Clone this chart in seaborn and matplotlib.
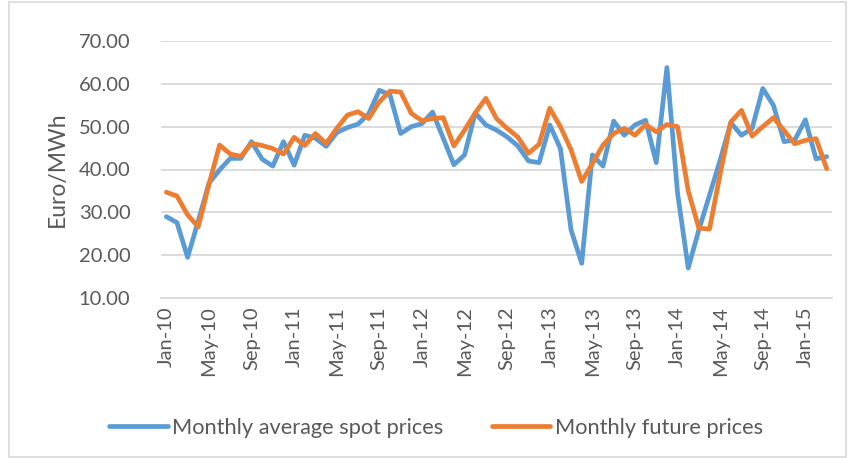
import numpy as np
import pandas as pd
import seaborn as sns
import matplotlib.pyplot as plt
from matplotlib.patches import Rectangle

# months Jan-10 .. Mar-15
months = pd.date_range("2010-01-01", "2015-03-01", freq="MS")
month_labels = [d.strftime("%b-%y") for d in months]

spot_prices = [
    29.0, 27.6, 19.5, 28.0, 36.8, 39.9, 42.6, 42.6, 46.5, 42.4, 40.8, 46.5,
    41.0, 48.0, 47.3, 45.4, 48.6, 49.8, 50.6, 53.0, 58.5, 57.4, 48.4, 50.0,
    50.7, 53.4, 47.3, 41.1, 43.4, 53.2, 50.4, 49.2, 47.6, 45.5, 42.0, 41.6,
    50.4, 44.9, 25.9, 18.1, 43.4, 40.8, 51.3, 48.0, 50.4, 51.5, 41.6, 63.8,
    34.5, 17.0, 25.9, 34.0, 42.2, 50.9, 48.0, 49.6, 58.9, 55.0, 46.5, 46.9,
    51.6, 42.5, 43.0,
]
future_prices = [
    34.7, 33.8, 29.4, 26.6, 36.5, 45.7, 43.6, 43.1, 46.1, 45.6, 44.9, 43.6,
    47.5, 45.6, 48.4, 46.1, 49.6, 52.7, 53.5, 51.9, 55.8, 58.3, 58.1, 53.1,
    51.4, 51.9, 52.1, 45.5, 49.2, 53.2, 56.6, 51.9, 49.6, 47.6, 43.8, 45.9,
    54.3, 50.0, 44.6, 37.2, 41.4, 45.7, 48.4, 49.6, 48.0, 50.5, 48.8, 50.5,
    50.0, 35.0, 26.3, 26.1, 39.0, 51.1, 53.8, 47.8, 50.0, 52.1, 49.1, 46.0,
    46.8, 47.2, 40.2,
]
series_names = ["Monthly average spot prices", "Monthly future prices"]
colors = ["#5B9BD5", "#ED7D31"]

n = len(month_labels)
df = pd.DataFrame({
    "idx": list(range(n)) * 2,
    "price": spot_prices + future_prices,
    "series": [series_names[0]] * n + [series_names[1]] * n,
})

sns.set_style("white")
plt.rcParams["font.family"] = ["Lato", "DejaVu Sans"]
text_color = "#595959"
grid_color = "#D9D9D9"

fig = plt.figure(figsize=(8.48, 4.58), dpi=100)
ax = fig.add_axes([161 / 848, 1 - 298 / 458, (832 - 161) / 848, (298 - 41) / 458])

sns.lineplot(data=df, x="idx", y="price", hue="series", palette=colors,
             linewidth=3.4, ax=ax, legend=False,
             solid_joinstyle="round", solid_capstyle="round")

ax.set_xlim(-0.5, n - 0.5)
ax.set_ylim(10, 70)
ax.set_yticks(np.arange(10, 71, 10))
ax.set_yticklabels([f"{v:.2f}" for v in range(10, 71, 10)])
ax.yaxis.grid(True, color=grid_color, linewidth=1.3)
ax.set_axisbelow(True)

tick_pos = list(range(0, n, 4))
ax.set_xticks(tick_pos)
ax.set_xticklabels([month_labels[i] for i in tick_pos], rotation=90)
ax.set_xticks(np.arange(-0.5, n - 1, 4), minor=True)
ax.tick_params(axis="x", which="major", length=0, pad=6, labelsize=14.5, colors=text_color)
ax.tick_params(axis="x", which="minor", length=5, width=1.2, color=grid_color)
ax.tick_params(axis="y", length=0, pad=22, labelsize=14.5, colors=text_color)

for s in ["top", "right", "left"]:
    ax.spines[s].set_visible(False)
ax.spines["bottom"].set_color(grid_color)
ax.spines["bottom"].set_linewidth(1.3)

ax.set_xlabel("")
ax.set_ylabel("Euro/MWh", fontsize=16.5, color=text_color, labelpad=8)

handles = [plt.Line2D([], [], color=c, linewidth=3.4, solid_capstyle="round") for c in colors]
fig.legend(handles, series_names, loc="center", bbox_to_anchor=(436 / 848, 1 - 428 / 458),
           ncol=2, frameon=False, fontsize=15.7, labelcolor=text_color,
           handlelength=2.7, handletextpad=0.2, columnspacing=2.2)

fig.patches.append(Rectangle((9 / 848, 1 / 458), 837 / 848, 455 / 458, transform=fig.transFigure,
                             fill=False, edgecolor=grid_color, linewidth=1.2))

fig.savefig("out.png", dpi=100)
